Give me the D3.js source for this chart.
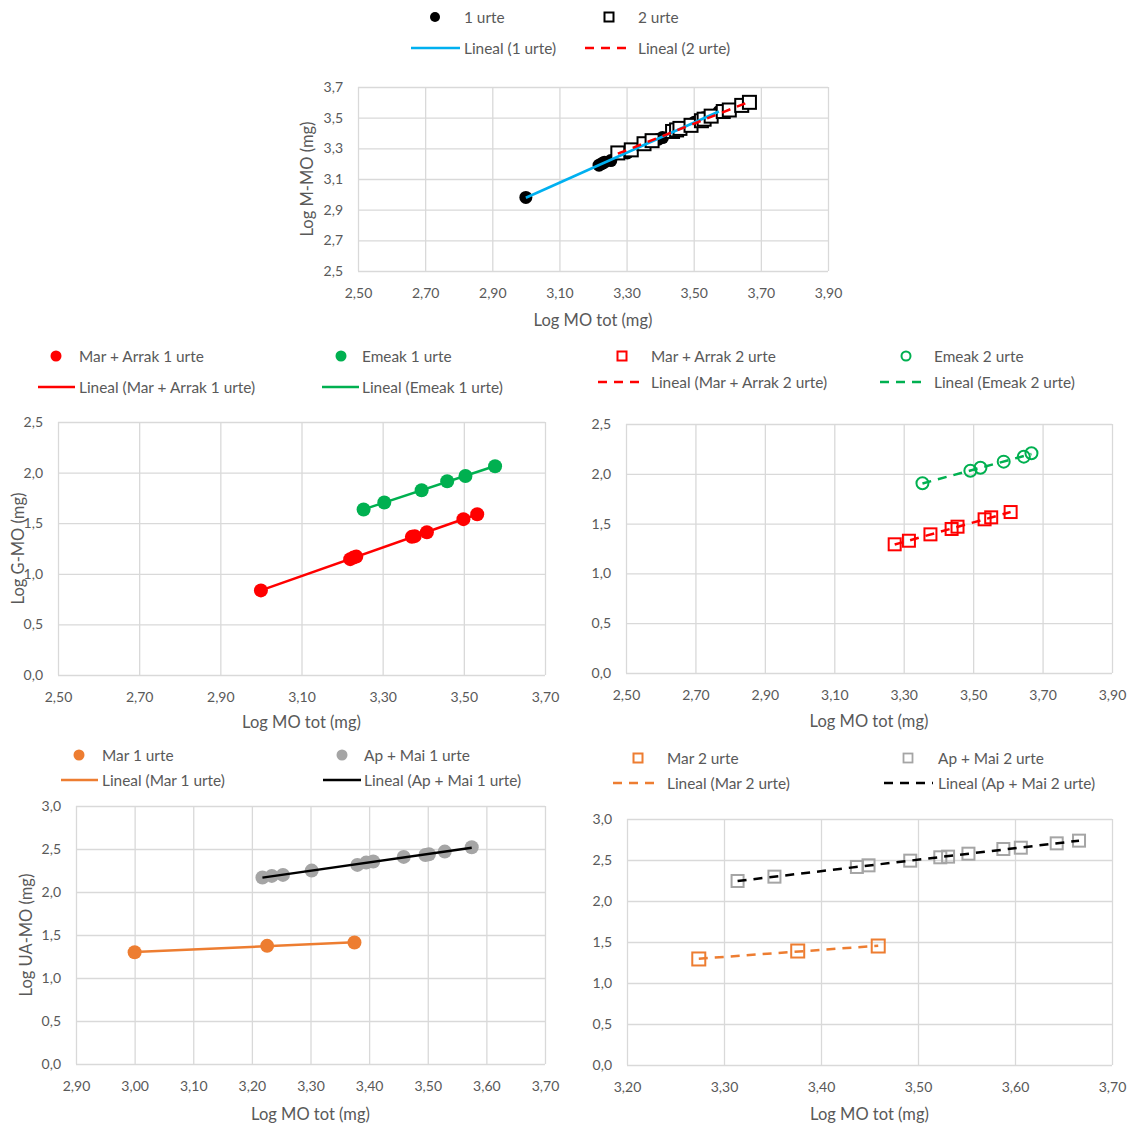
<!DOCTYPE html>
<html><head><meta charset="utf-8">
<script src="https://cdn.jsdelivr.net/npm/d3@7"></script>
<style>
body{margin:0;background:#fff;}
svg{display:block;font-family:Lato,"Open Sans",sans-serif;}
</style></head><body>
<svg id="c" width="1136" height="1128"></svg>
<script>
// ---- Log M-MO vs Log MO tot (1 and 2 urte) ----
const moTot1Urte = [3.000, 3.218, 3.226, 3.234, 3.253, 3.302, 3.375, 3.380, 3.395, 3.407, 3.459, 3.496, 3.502, 3.529, 3.575];
const mMo1Urte   = [2.98, 3.19, 3.20, 3.21, 3.22, 3.27, 3.35, 3.35, 3.36, 3.37, 3.43, 3.46, 3.47, 3.50, 3.54];
const moTot2Urte = [3.274, 3.314, 3.352, 3.376, 3.437, 3.449, 3.459, 3.492, 3.523, 3.531, 3.552, 3.588, 3.606, 3.643, 3.666];
const mMo2Urte   = [3.27, 3.29, 3.33, 3.35, 3.41, 3.42, 3.43, 3.45, 3.48, 3.49, 3.51, 3.54, 3.55, 3.58, 3.60];

// ---- Log G-MO, 1 urte ----
const moTotMarArrak1 = [3.000, 3.220, 3.228, 3.235, 3.372, 3.379, 3.409, 3.499, 3.533];
const gMoMarArrak1   = [0.836, 1.145, 1.160, 1.170, 1.365, 1.372, 1.411, 1.540, 1.589];
const moTotEmeak1    = [3.253, 3.304, 3.396, 3.459, 3.504, 3.577];
const gMoEmeak1      = [1.635, 1.705, 1.826, 1.915, 1.967, 2.063];

// ---- Log G-MO, 2 urte ----
const moTotMarArrak2 = [3.274, 3.315, 3.377, 3.438, 3.455, 3.533, 3.552, 3.608];
const gMoMarArrak2   = [1.292, 1.328, 1.392, 1.446, 1.469, 1.543, 1.563, 1.616];
const moTotEmeak2    = [3.354, 3.492, 3.521, 3.588, 3.646, 3.668];
const gMoEmeak2      = [1.905, 2.031, 2.061, 2.122, 2.172, 2.206];

// ---- Log UA-MO, 1 urte ----
const moTotMar1   = [3.000, 3.226, 3.375];
const uaMoMar1    = [1.300, 1.374, 1.413];
const moTotApMai1 = [3.218, 3.234, 3.253, 3.302, 3.380, 3.395, 3.407, 3.459, 3.496, 3.502, 3.529, 3.575];
const uaMoApMai1  = [2.168, 2.187, 2.199, 2.249, 2.315, 2.342, 2.354, 2.408, 2.431, 2.439, 2.470, 2.520];

// ---- Log UA-MO, 2 urte ----
const moTotMar2   = [3.274, 3.376, 3.459];
const uaMoMar2    = [1.293, 1.390, 1.451];
const moTotApMai2 = [3.314, 3.352, 3.437, 3.449, 3.492, 3.523, 3.531, 3.552, 3.588, 3.606, 3.643, 3.666];
const uaMoApMai2  = [2.244, 2.297, 2.415, 2.435, 2.492, 2.533, 2.541, 2.577, 2.634, 2.650, 2.703, 2.736];

// ---- tick values ----
const xTicksWide  = [2.5, 2.7, 2.9, 3.1, 3.3, 3.5, 3.7, 3.9];
const xTicksMid   = [2.5, 2.7, 2.9, 3.1, 3.3, 3.5, 3.7];
const xTicksUA1   = [2.9, 3.0, 3.1, 3.2, 3.3, 3.4, 3.5, 3.6, 3.7];
const xTicksUA2   = [3.2, 3.3, 3.4, 3.5, 3.6, 3.7];
const yTicksMMO   = [2.5, 2.7, 2.9, 3.1, 3.3, 3.5, 3.7];
const yTicksGMO   = [0, 0.5, 1.0, 1.5, 2.0, 2.5];
const yTicksUAMO  = [0, 0.5, 1.0, 1.5, 2.0, 2.5, 3.0];

const xTitle = "Log MO tot (mg)";

const loc = d3.formatLocale({decimal: ",", thousands: ".", grouping: [3], currency: ["", "€"]});
const fmt2 = loc.format(".2f"), fmt1 = loc.format(".1f");

const TXT = "#595959", GRID = "#d9d9d9";
const svg = d3.select("#c");

// least-squares line over the x-range of a series
function fit(xs, ys) {
  const mx = d3.mean(xs), my = d3.mean(ys);
  let sxy = 0, sxx = 0;
  xs.forEach((x, i) => { sxy += (x - mx) * (ys[i] - my); sxx += (x - mx) * (x - mx); });
  const b = sxy / sxx, a = my - b * mx;
  const lo = d3.min(xs), hi = d3.max(xs);
  return [[lo, a + b * lo], [hi, a + b * hi]];
}

function drawMarker(g, m, cx, cy) {
  if (m.type === "circle") {
    g.append("circle").attr("cx", cx).attr("cy", cy).attr("r", m.r)
      .attr("fill", m.fill).attr("stroke", m.stroke || "none").attr("stroke-width", m.sw || 0);
  } else {
    g.append("rect").attr("x", cx - m.s / 2).attr("y", cy - m.s / 2).attr("width", m.s).attr("height", m.s)
      .attr("fill", m.fill).attr("stroke", m.stroke).attr("stroke-width", m.sw);
  }
}

function chart(c) {
  const [x0, y0, x1, y1] = c.box;
  const x = d3.scaleLinear().domain(d3.extent(c.xTicks)).range([x0, x1]);
  const y = d3.scaleLinear().domain(d3.extent(c.yTicks)).range([y1, y0]);
  const g = svg.append("g");

  const gy = g.append("g").attr("transform", `translate(${x0},0)`)
    .call(d3.axisLeft(y).tickValues(c.yTicks).tickFormat(fmt1).tickSize(-(x1 - x0)).tickPadding(15));
  const gx = g.append("g").attr("transform", `translate(0,${y1})`)
    .call(d3.axisBottom(x).tickValues(c.xTicks).tickFormat(fmt2).tickSize(-(y1 - y0)).tickPadding(17));
  [gx, gy].forEach(a => {
    a.select(".domain").remove();
    a.selectAll("line").attr("stroke", GRID).attr("stroke-width", 1.3);
    a.selectAll("text").attr("fill", TXT).style("font-size", "14px").style("font-family", "Lato");
  });

  // markers
  c.series.forEach(s => {
    const mg = g.append("g");
    s.x.forEach((v, i) => drawMarker(mg, s.marker, x(v), y(s.y[i])));
  });
  // linear trendlines on top of the markers
  c.series.forEach(s => {
    const pts = fit(s.x, s.y);
    g.append("line")
      .attr("x1", x(pts[0][0])).attr("y1", y(pts[0][1]))
      .attr("x2", x(pts[1][0])).attr("y2", y(pts[1][1]))
      .attr("stroke", s.line).attr("stroke-width", 2.5)
      .attr("stroke-dasharray", s.dash ? "9,7" : null);
  });

  g.append("text").attr("x", (x0 + x1) / 2).attr("y", c.xTitleY)
    .attr("text-anchor", "middle").attr("dominant-baseline", "central")
    .attr("fill", TXT).style("font-size", "16.5px").text(xTitle);
  if (c.yTitle) {
    g.append("text").attr("transform", `translate(${c.yTitleX},${(y0 + y1) / 2}) rotate(-90)`)
      .attr("text-anchor", "middle").attr("dominant-baseline", "central")
      .attr("fill", TXT).style("font-size", "16.5px").text(c.yTitle);
  }
}

function legend(items) {
  const g = svg.append("g");
  items.forEach(it => {
    if (it.marker) {
      drawMarker(g, it.marker, it.mx, it.y);
    } else {
      g.append("line").attr("x1", it.lx[0]).attr("x2", it.lx[1]).attr("y1", it.y).attr("y2", it.y)
        .attr("stroke", it.color).attr("stroke-width", 2.5)
        .attr("stroke-dasharray", it.dash ? "9,7" : null);
    }
    g.append("text").attr("x", it.tx).attr("y", it.y).attr("dominant-baseline", "central")
      .attr("fill", TXT).style("font-size", "15.4px").text(it.label);
  });
}

// marker styles
const mBlack   = {type: "circle", r: 6.5, fill: "#000"};
const mSqBlack = {type: "rect", s: 13, fill: "#fff", stroke: "#000", sw: 2};
const mRed     = {type: "circle", r: 7, fill: "#ff0000"};
const mGreen   = {type: "circle", r: 7, fill: "#00b050"};
const mSqRed   = {type: "rect", s: 12, fill: "none", stroke: "#ff0000", sw: 2};
const mOGreen  = {type: "circle", r: 6, fill: "none", stroke: "#00b050", sw: 2};
const mOrange  = {type: "circle", r: 7, fill: "#ed7d31"};
const mGray    = {type: "circle", r: 7, fill: "#a5a5a5"};
const mSqOr    = {type: "rect", s: 13, fill: "none", stroke: "#ed7d31", sw: 2};
const mSqGray  = {type: "rect", s: 12, fill: "none", stroke: "#a5a5a5", sw: 2};

// ---------- top chart ----------
chart({box: [358, 87, 828, 271], xTicks: xTicksWide, yTicks: yTicksMMO, xTitleY: 320,
  yTitle: "Log M-MO (mg)", yTitleX: 307,
  series: [
    {x: moTot1Urte, y: mMo1Urte, marker: mBlack, line: "#00b0f0"},
    {x: moTot2Urte, y: mMo2Urte, marker: mSqBlack, line: "#ff0000", dash: true}
  ]});
legend([
  {marker: {type: "circle", r: 5, fill: "#000"}, mx: 435, y: 17, tx: 464, label: "1 urte"},
  {marker: {type: "rect", s: 9, fill: "#fff", stroke: "#000", sw: 2}, mx: 609, y: 17, tx: 638, label: "2 urte"},
  {lx: [411, 460], color: "#00b0f0", y: 48, tx: 464, label: "Lineal (1 urte)"},
  {lx: [585, 633], color: "#ff0000", dash: true, y: 48, tx: 638, label: "Lineal (2 urte)"}
]);

// ---------- middle left ----------
chart({box: [58, 422, 545, 675], xTicks: xTicksMid, yTicks: yTicksGMO, xTitleY: 722,
  yTitle: "Log G-MO (mg)", yTitleX: 18,
  series: [
    {x: moTotMarArrak1, y: gMoMarArrak1, marker: mRed, line: "#ff0000"},
    {x: moTotEmeak1, y: gMoEmeak1, marker: mGreen, line: "#00b050"}
  ]});
legend([
  {marker: {type: "circle", r: 5.5, fill: "#ff0000"}, mx: 56, y: 356, tx: 79, label: "Mar + Arrak 1 urte"},
  {marker: {type: "circle", r: 5.5, fill: "#00b050"}, mx: 341, y: 356, tx: 362, label: "Emeak 1 urte"},
  {lx: [38, 75], color: "#ff0000", y: 387, tx: 79, label: "Lineal (Mar + Arrak 1 urte)"},
  {lx: [322, 359], color: "#00b050", y: 387, tx: 362, label: "Lineal (Emeak 1 urte)"}
]);

// ---------- middle right ----------
chart({box: [626, 424, 1112, 673], xTicks: xTicksWide, yTicks: yTicksGMO, xTitleY: 721,
  series: [
    {x: moTotMarArrak2, y: gMoMarArrak2, marker: mSqRed, line: "#ff0000", dash: true},
    {x: moTotEmeak2, y: gMoEmeak2, marker: mOGreen, line: "#00b050", dash: true}
  ]});
legend([
  {marker: {type: "rect", s: 9, fill: "none", stroke: "#ff0000", sw: 2}, mx: 622, y: 356, tx: 651, label: "Mar + Arrak 2 urte"},
  {marker: {type: "circle", r: 4.5, fill: "none", stroke: "#00b050", sw: 2}, mx: 906, y: 356, tx: 934, label: "Emeak 2 urte"},
  {lx: [598, 646], color: "#ff0000", dash: true, y: 382, tx: 651, label: "Lineal (Mar + Arrak 2 urte)"},
  {lx: [880, 928], color: "#00b050", dash: true, y: 382, tx: 934, label: "Lineal (Emeak 2 urte)"}
]);

// ---------- bottom left ----------
chart({box: [76, 806, 545, 1064], xTicks: xTicksUA1, yTicks: yTicksUAMO, xTitleY: 1114,
  yTitle: "Log UA-MO (mg)", yTitleX: 26,
  series: [
    {x: moTotMar1, y: uaMoMar1, marker: mOrange, line: "#ed7d31"},
    {x: moTotApMai1, y: uaMoApMai1, marker: mGray, line: "#000"}
  ]});
legend([
  {marker: {type: "circle", r: 5.5, fill: "#ed7d31"}, mx: 79, y: 755, tx: 102, label: "Mar 1 urte"},
  {marker: {type: "circle", r: 5.5, fill: "#a5a5a5"}, mx: 342, y: 755, tx: 364, label: "Ap + Mai 1 urte"},
  {lx: [61, 98], color: "#ed7d31", y: 780, tx: 102, label: "Lineal (Mar 1 urte)"},
  {lx: [323, 361], color: "#000", y: 780, tx: 364, label: "Lineal (Ap + Mai 1 urte)"}
]);

// ---------- bottom right ----------
chart({box: [627, 819, 1112, 1065], xTicks: xTicksUA2, yTicks: yTicksUAMO, xTitleY: 1114,
  series: [
    {x: moTotMar2, y: uaMoMar2, marker: mSqOr, line: "#ed7d31", dash: true},
    {x: moTotApMai2, y: uaMoApMai2, marker: mSqGray, line: "#000", dash: true}
  ]});
legend([
  {marker: {type: "rect", s: 9, fill: "none", stroke: "#ed7d31", sw: 2}, mx: 638, y: 758, tx: 667, label: "Mar 2 urte"},
  {marker: {type: "rect", s: 9, fill: "none", stroke: "#a5a5a5", sw: 1.8}, mx: 908, y: 758, tx: 938, label: "Ap + Mai 2 urte"},
  {lx: [613, 660], color: "#ed7d31", dash: true, y: 783, tx: 667, label: "Lineal (Mar 2 urte)"},
  {lx: [884, 933], color: "#000", dash: true, y: 783, tx: 938, label: "Lineal (Ap + Mai 2 urte)"}
]);
</script>
</body></html>
